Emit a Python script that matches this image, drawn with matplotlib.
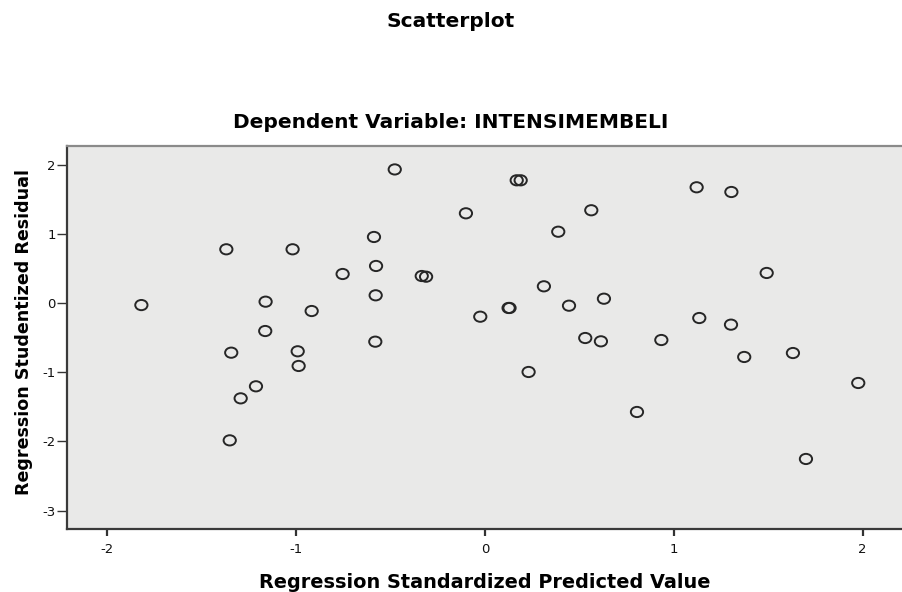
import matplotlib
matplotlib.use("Agg")
import matplotlib.pyplot as plt
from matplotlib.path import Path
from matplotlib.transforms import Affine2D

# Regression standardized predicted values (x) and studentized residuals (y)
pred = [-1.820, -1.370, -1.019, -0.588, -0.754, -0.577, -0.335, -0.312, -0.579,
        -1.162, -0.918, -1.164, -0.581, -1.344, -0.992, -0.987, -0.478,
        -1.213, -1.294, -1.352,
        0.168, 0.189, -0.101, 0.563, 0.388, 1.121, 1.305, 1.492, 0.312,
        -0.025, 0.125, 0.130, 0.445, 0.630, 0.531, 0.614, 0.934, 1.135,
        1.303, 1.373, 1.631, 0.231, 1.977, 0.805, 1.700]
resid = [-0.030, 0.776, 0.776, 0.954, 0.419, 0.535, 0.390, 0.380, 0.111,
         0.019, -0.116, -0.405, -0.559, -0.718, -0.698, -0.910, 1.930,
         -1.204, -1.378, -1.985,
         1.773, 1.773, 1.296, 1.340, 1.030, 1.672, 1.604, 0.434, 0.241,
         -0.198, -0.072, -0.072, -0.039, 0.062, -0.506, -0.554, -0.535, -0.217,
         -0.313, -0.780, -0.723, -0.997, -1.156, -1.575, -2.254]

x_ticks = [-2, -1, 0, 1, 2]
y_ticks = [-3, -2, -1, 0, 1, 2]

W, H = 902, 592
plt.rcParams['font.family'] = ['DejaVu Sans']
fig = plt.figure(figsize=(W / 100, H / 100), dpi=100)

left, right, top, bottom = 66.7, 902, 145.7, 529
ax = fig.add_axes([left / W, 1 - bottom / H, (right - left) / W, (bottom - top) / H])
ax.set_facecolor('#e9e9e8')

# slightly wide open circle, as in the reference
ellipse = Path.unit_circle().transformed(Affine2D().scale(1.2, 1.0))
ax.scatter(pred, resid, s=78, marker=ellipse, facecolors='none',
           edgecolors='#262626', linewidths=1.4, zorder=3)

ax.set_xlim(-2.2155, 2.2087)
ax.set_ylim(-3.266, 2.273)
ax.set_xticks(x_ticks)
ax.set_yticks(y_ticks)
ax.set_xticklabels([str(t) for t in x_ticks])
ax.set_yticklabels([str(t) for t in y_ticks])
ax.tick_params(axis='x', direction='out', length=5, width=1.6, color='#333333',
               labelsize=9.5, pad=5, labelcolor='#111111')
ax.tick_params(axis='y', direction='out', length=7, width=1.0, color='#333333',
               labelsize=9.5, pad=1, labelcolor='#111111')

for side in ['left', 'bottom']:
    ax.spines[side].set_color('#3a3a3a')
    ax.spines[side].set_linewidth(1.6)
ax.spines['top'].set_color('#8a8a8a')
ax.spines['top'].set_linewidth(1.6)
ax.spines['right'].set_visible(False)

ax.set_xlabel('Regression Standardized Predicted Value', fontsize=13.9,
              fontweight='bold', labelpad=12)
ax.set_ylabel('Regression Studentized Residual', fontsize=12.6,
              fontweight='bold', labelpad=7)
ax.yaxis.label.set_y(0.515)

fig.text(0.5, 1 - 27 / H, 'Scatterplot', ha='center', va='baseline',
         fontsize=14.5, fontweight='bold')
fig.text(0.5, 1 - 128 / H, 'Dependent Variable: INTENSIMEMBELI', ha='center',
         va='baseline', fontsize=14.5, fontweight='bold')

fig.savefig('out.png', dpi=100, facecolor='white')
